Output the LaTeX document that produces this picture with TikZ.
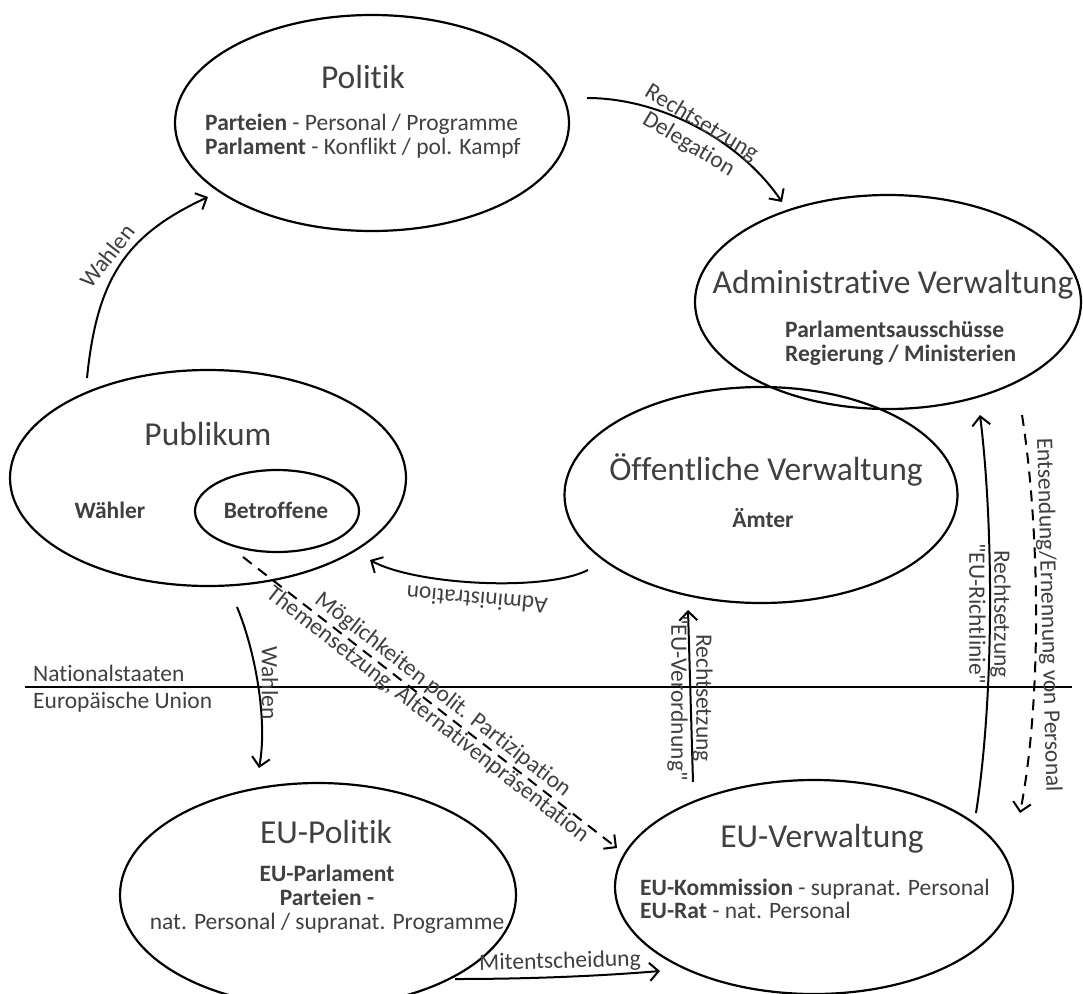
\documentclass[tikz,border=0pt]{standalone}
\usepackage{fontspec}
\setmainfont{Carlito}[Ligatures={TeXOff,NoCommon}]
\usetikzlibrary{shapes.geometric,arrows.meta}
\definecolor{txtgray}{HTML}{404040}
\begin{document}
\begin{tikzpicture}[x=1pt,y=-1pt,
  bub/.style={ellipse, draw=black, line width=2.2pt, inner sep=0pt, outer sep=0pt},
  ttl/.style={font=\fontsize{33.5}{40}\selectfont, text=txtgray, inner sep=0pt, anchor=base},
  bdy/.style={font=\fontsize{23.5}{25}\selectfont, text=txtgray, inner sep=0pt, anchor=base},
  lbl/.style={font=\fontsize{23.5}{25}\selectfont, text=txtgray, inner sep=0pt, align=center},
  conn/.style={line width=2pt, -{Straight Barb[length=9pt,width=18pt]}},
  dconn/.style={conn, dash pattern=on 11pt off 8pt},
]
\useasboundingbox (0,0) rectangle (1083,993);
\fill[white] (0,0) rectangle (1083,993);

% ellipses
\node[bub, minimum width=394pt, minimum height=216pt] (pol) at (372,123) {};
\node[bub, minimum width=386pt, minimum height=214pt] (adm) at (888,302) {};
\node[bub, minimum width=396pt, minimum height=216pt] (pub) at (208,478) {};
\node[bub, minimum width=164pt, minimum height=82pt] (bet) at (277,511) {};
\node[bub, minimum width=393pt, minimum height=216pt] (oef) at (761,495) {};
\node[bub, minimum width=398pt, minimum height=214pt] (euv) at (814,887) {};
\node[bub, minimum width=396pt, minimum height=224pt] (eup) at (318,895) {};

% texts in ellipses
\node[ttl] (tpol) at (363,88) {Politik};
\node[bdy, anchor=base west] (pol1) at (205,130) {\textbf{Parteien} - Personal / Programme};
\node[bdy, anchor=base west] (pol2) at (205,154) {\textbf{Parlament} - Konflikt / pol. Kampf};
\node[ttl] (tadm) at (893,293) {Administrative Verwaltung};
\node[bdy, anchor=base west] (adm1) at (785,337) {\textbf{Parlamentsausschüsse}};
\node[bdy, anchor=base west] (adm2) at (785,361) {\textbf{Regierung / Ministerien}};
\node[ttl] (toef) at (766,480) {Öffentliche Verwaltung};
\node[bdy] (oef1) at (763,527) {\textbf{Ämter}};
\node[ttl] (tpub) at (208,445) {Publikum};
\node[bdy] (pub1) at (110,518) {\textbf{Wähler}};
\node[bdy] (bet1) at (276,518) {\textbf{Betroffene}};
\node[ttl] (teuv) at (822,847) {EU-Verwaltung};
\node[bdy, anchor=base west] (euv1) at (640,895) {\textbf{EU-Kommission} - supranat. Personal};
\node[bdy, anchor=base west] (euv2) at (640,918) {\textbf{EU-Rat} - nat. Personal};
\node[ttl] (teup) at (326,843) {EU-Politik};
\node[bdy] (eup1) at (327,881) {\textbf{EU-Parlament}};
\node[bdy] (eup2) at (327,905) {\textbf{Parteien -}};
\node[bdy] (eup3) at (327,929) {nat. Personal / supranat. Programme};

% separator line
\coordinate (h1) at (25,687);
\coordinate (h2) at (1072,687);
\draw[line width=1.6pt] (h1) -- (h2);
\node[bdy, anchor=base west] (nat) at (33,681) {Nationalstaaten};
\node[bdy, anchor=base west] (eu) at (33,708) {Europäische Union};

% Wahlen (Publikum -> Politik)
\coordinate (w1s) at (87,378);
\coordinate (w1e) at (208,197);
\draw[conn] (w1s) .. controls (97,278) and (126,235) .. (w1e);
\node[lbl, rotate=52] (lw1) at (107,256) {Wahlen};

% Rechtsetzung / Delegation
\coordinate (r1s) at (587,98);
\coordinate (r1e) at (782,202);
\draw[conn] (r1s) .. controls (660,98) and (740,140) .. (r1e);
\node[lbl, rotate=-31] (lr1) at (695,134) {Rechtsetzung\\Delegation};

% Administration
\coordinate (a1s) at (588,570);
\coordinate (a1e) at (370,560);
\draw[conn] (a1s) .. controls (545,592) and (415,585) .. (a1e);
\node[lbl, rotate=175] (la1) at (477,600) {Administration};

% Wahlen (Publikum -> EU-Politik)
\coordinate (w2s) at (237,607);
\coordinate (w2e) at (259,768);
\draw[conn] (w2s) .. controls (255,650) and (268,720) .. (w2e);
\node[lbl, rotate=-90] (lw2) at (270,683) {Wahlen};

% dashed participation arrow
\coordinate (d1s) at (243,557);
\coordinate (d1e) at (617,848);
\draw[dconn] (d1s) -- (d1e);
\node[lbl, rotate=-37.9] (ld1) at (435,705) {Möglichkeiten polit. Partizipation\\Themensetzung, Alternativenpräsentation};

% EU-Verordnung
\coordinate (v1s) at (693,782);
\coordinate (v1e) at (688,610);
\draw[conn] (v1s) -- (v1e);
\node[lbl, rotate=-90] (lv1) at (690,698) {Rechtsetzung\\"EU-Verordnung"};

% EU-Richtlinie
\coordinate (e1s) at (976,813);
\coordinate (e1e) at (980,415);
\draw[conn] (e1s) .. controls (995,690) and (993,520) .. (e1e);
\node[lbl, rotate=-90] (le1) at (990,614) {Rechtsetzung\\"EU-Richtlinie"};

% Entsendung
\coordinate (n1s) at (1022,415);
\coordinate (n1e) at (1020,813);
\draw[dconn] (n1s) .. controls (1040,530) and (1042,700) .. (n1e);
\node[lbl, rotate=-88.5] (ln1) at (1048,615) {Entsendung/Ernennung von Personal};

% Mitentscheidung
\coordinate (m1s) at (455,979);
\coordinate (m1e) at (660,971);
\draw[conn] (m1s) .. controls (530,979) and (600,976) .. (m1e);
\node[lbl, rotate=1.5] (lm1) at (560,962) {Mitentscheidung};
\end{tikzpicture}
\end{document}
